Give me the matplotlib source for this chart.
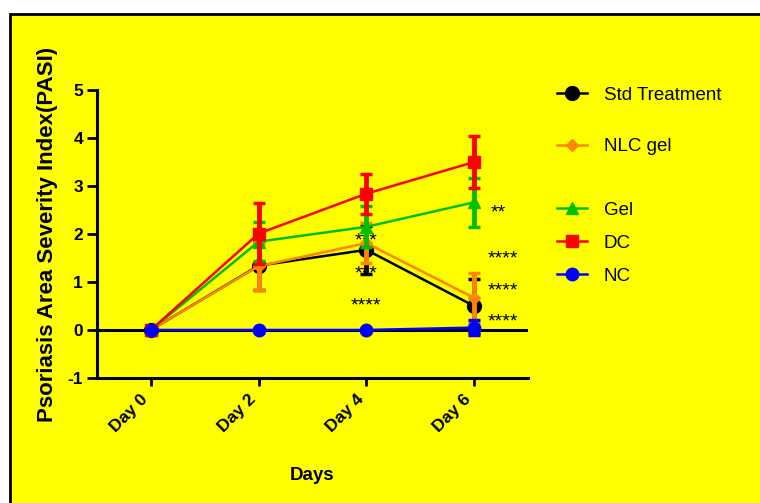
import matplotlib
matplotlib.use('Agg')
import matplotlib.pyplot as plt
from matplotlib.patches import Rectangle

plt.rcParams['font.family'] = ['Liberation Sans', 'DejaVu Sans']
plt.rcParams['axes.unicode_minus'] = False

# days on the x axis
days = ['Day 0', 'Day 2', 'Day 4', 'Day 6']
yticks = [-1, 0, 1, 2, 3, 4, 5]

# mean PASI score per group and its error
std_mean = [0, 1.34, 1.67, 0.50]
std_err = [0, 0.50, 0.50, 0.56]
nlc_mean = [0, 1.33, 1.81, 0.67]
nlc_err = [0, 0.50, 0.42, 0.52]
gel_mean = [0, 1.84, 2.15, 2.66]
gel_err = [0, 0.41, 0.43, 0.51]
dc_mean = [0, 2.01, 2.84, 3.50]
dc_err = [0, 0.63, 0.42, 0.54]
nc_mean = [0, 0, 0, 0.05]
nc_err = [0, 0, 0, 0.15]

# significance stars (text, day index, y)
stars = [('***', 2, 1.93), ('***', 2, 1.25), ('****', 2, 0.58),
         ('**', 3.22, 2.52), ('****', 3.27, 1.56), ('****', 3.27, 0.90),
         ('****', 3.27, 0.25)]

fig = plt.figure(figsize=(7.6, 5.03), dpi=100)
fig.patch.set_facecolor('white')
# yellow panel with black border
fig.add_artist(Rectangle((10 / 760, -0.1), 1.2, 0.972 + 0.1, transform=fig.transFigure,
                         facecolor='#FFFF00', edgecolor='black', lw=2, zorder=0))

ax = fig.add_axes([97 / 760, 1 - 378 / 503, 431 / 760, 288 / 503])
ax.set_facecolor('none')

x = list(range(len(days)))
ax.axhline(0, color='black', lw=2.2, zorder=1)

series = [
    ('Std Treatment', std_mean, std_err, 'black', 'o', 10),
    ('NLC gel', nlc_mean, nlc_err, '#FF8400', 'D', 6),
    ('Gel', gel_mean, gel_err, '#00BF00', '^', 9),
    ('DC', dc_mean, dc_err, '#FF0000', 's', 9),
    ('NC', nc_mean, nc_err, '#0000FF', 'o', 9),
]
handles = []
for i, (name, m, e, c, mk, ms) in enumerate(series):
    h = ax.errorbar(x, m, yerr=e, color=c, marker=mk, ms=ms, lw=1.8,
                    elinewidth=3.5, capsize=4.5, capthick=2.5, label=name,
                    zorder=2 + i)
    handles.append(h.lines[0])

for s, xi, yi in stars:
    ax.text(xi, yi - 0.08, s, ha='center', va='center', fontsize=14)

ax.set_xlim(-0.5, 3.5)
ax.set_ylim(-1, 5)
ax.set_yticks(yticks)
ax.set_xticks(x)
ax.set_xticklabels(days, rotation=45, ha='right', fontweight='bold', fontsize=12.5)
for lab in ax.get_yticklabels():
    lab.set_fontweight('bold')
    lab.set_fontsize(12.5)
ax.spines['top'].set_visible(False)
ax.spines['right'].set_visible(False)
ax.spines['left'].set_linewidth(2.2)
ax.spines['bottom'].set_linewidth(2.2)
ax.tick_params(axis='y', length=7, width=2, pad=3)
ax.tick_params(axis='x', length=6, width=2, pad=4)

ax.text(-0.116, 0.5, 'Psoriasis Area Severity Index(PASI)', transform=ax.transAxes,
        rotation=90, ha='center', va='center', fontsize=16, fontweight='bold')
ax.text(0.499, -0.34, 'Days', transform=ax.transAxes, ha='center', va='center',
        fontsize=13.5, fontweight='bold')

leg_style = dict(frameon=False, fontsize=13.5, handlelength=1.6, handletextpad=0.9,
                 borderpad=0, borderaxespad=0, loc='center left')
leg1 = fig.legend(handles[:2], [s[0] for s in series[:2]],
                  bbox_to_anchor=(557 / 760, 1 - 121 / 503), labelspacing=1.85, **leg_style)
leg2 = fig.legend(handles[2:], [s[0] for s in series[2:]],
                  bbox_to_anchor=(557 / 760, 1 - 243 / 503), labelspacing=0.85, **leg_style)

fig.savefig('out.png', dpi=100)
